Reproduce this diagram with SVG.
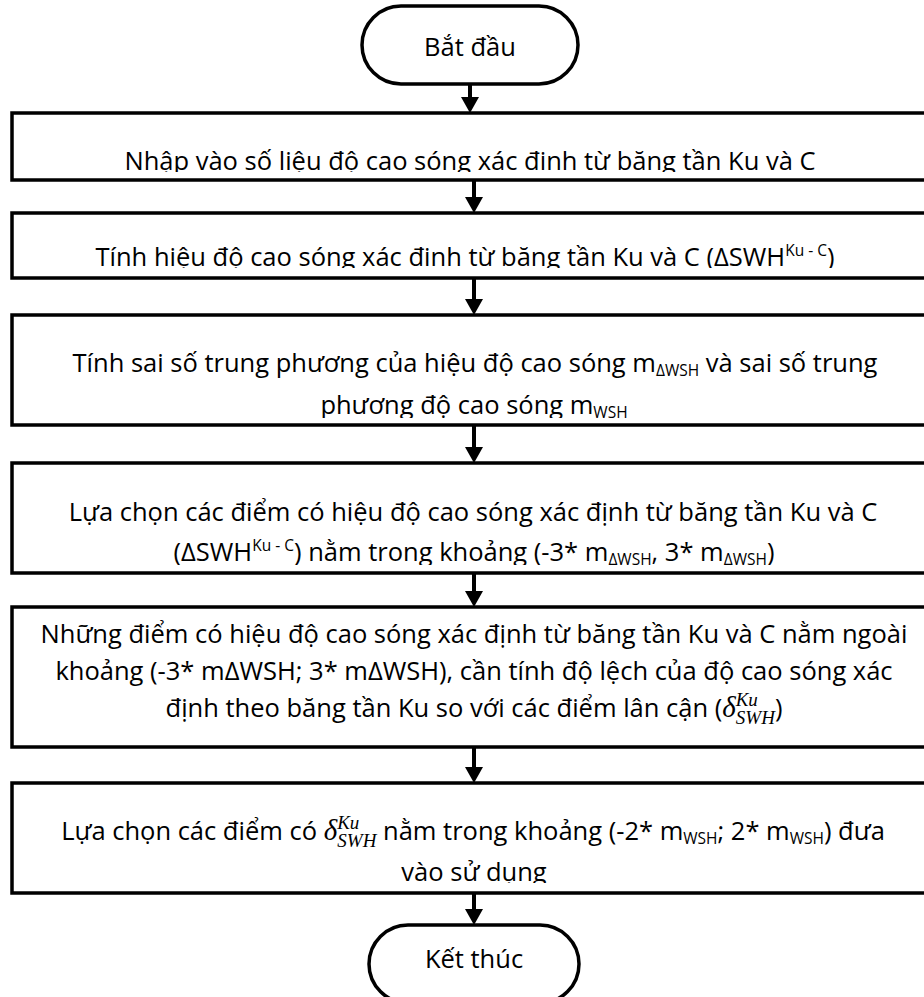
<svg xmlns="http://www.w3.org/2000/svg" width="924" height="997" viewBox="0 0 924 997">
<defs>
<style>
.box{fill:#fff;stroke:#000;stroke-width:3.5}
.term{fill:#fff;stroke:#000;stroke-width:3.5}
.t{font-family:"Open Sans","Noto Sans",sans-serif;font-size:25.5px;fill:#000;text-anchor:middle}
.s{font-size:15.5px}
.m{font-family:"Liberation Serif",serif;font-style:italic;font-size:29px}
.ms{font-family:"Liberation Serif",serif;font-style:italic;font-size:19px}
.conn{stroke:#000;stroke-width:4;fill:none;marker-end:url(#arr)}
</style>
<marker id="arr" viewBox="0 0 16 18" refX="3" refY="9" markerWidth="16" markerHeight="18" markerUnits="userSpaceOnUse" orient="auto">
<path d="M0,0 L16,9 L0,18 Z" fill="#000"/>
</marker>
<clipPath id="c1"><rect x="0" y="113" width="924" height="59"/></clipPath>
<clipPath id="c2"><rect x="0" y="213" width="924" height="55"/></clipPath>
<clipPath id="c3"><rect x="0" y="315" width="924" height="103"/></clipPath>
<clipPath id="c4"><rect x="0" y="463" width="924" height="102"/></clipPath>
<clipPath id="c6"><rect x="0" y="783" width="924" height="100"/></clipPath>
</defs>
<rect width="924" height="997" fill="#fff"/>

<g id="connectors">
<line class="conn" x1="470" y1="84" x2="470" y2="100"/>
<line class="conn" x1="474" y1="180" x2="474" y2="200"/>
<line class="conn" x1="474" y1="278" x2="474" y2="302"/>
<line class="conn" x1="474" y1="425" x2="474" y2="450"/>
<line class="conn" x1="474" y1="573" x2="474" y2="594"/>
<line class="conn" x1="474" y1="747" x2="474" y2="770"/>
<line class="conn" x1="474" y1="893" x2="474" y2="912"/>
</g>

<g id="start">
<rect class="term" x="362" y="6" width="216" height="78" rx="39" ry="39"/>
<text class="t" x="470" y="56">Bắt đầu</text>
</g>

<g id="step1">
<rect class="box" x="12" y="113" width="924" height="67"/>
<g clip-path="url(#c1)">
<text class="t" x="470" y="170">Nhập vào số liệu độ cao sóng xác định từ băng tần Ku và C</text>
</g>
</g>

<g id="step2">
<rect class="box" x="12" y="213" width="924" height="65"/>
<g clip-path="url(#c2)">
<text class="t" x="465" y="266">Tính hiệu độ cao sóng xác định từ băng tần Ku và C (ΔSWH<tspan class="s" dy="-10">Ku - C</tspan><tspan dy="10">)</tspan></text>
</g>
</g>

<g id="step3">
<rect class="box" x="12" y="315" width="924" height="110"/>
<g clip-path="url(#c3)">
<text class="t" x="475" y="372">Tính sai số trung phương của hiệu độ cao sóng m<tspan class="s" dy="4">ΔWSH</tspan><tspan dy="-4"> và sai số trung</tspan></text>
<text class="t" x="474" y="414">phương độ cao sóng m<tspan class="s" dy="4">WSH</tspan></text>
</g>
</g>

<g id="step4">
<rect class="box" x="12" y="463" width="924" height="110"/>
<g clip-path="url(#c4)">
<text class="t" x="473" y="521">Lựa chọn các điểm có hiệu độ cao sóng xác định từ băng tần Ku và C</text>
<text class="t" x="474" y="561">(ΔSWH<tspan class="s" dy="-10">Ku - C</tspan><tspan dy="10">) nằm trong khoảng (-3* m</tspan><tspan class="s" dy="4">ΔWSH</tspan><tspan dy="-4">, 3* m</tspan><tspan class="s" dy="4">ΔWSH</tspan><tspan dy="-4">)</tspan></text>
</g>
</g>

<g id="step5">
<rect class="box" x="12" y="607" width="924" height="140"/>
<text class="t" x="474" y="643">Những điểm có hiệu độ cao sóng xác định từ băng tần Ku và C nằm ngoài</text>
<text class="t" x="474" y="680">khoảng (-3* mΔWSH; 3* mΔWSH), cần tính độ lệch của độ cao sóng xác</text>
<text class="t" x="474" y="717">định theo băng tần Ku so với các điểm lân cận (<tspan class="m">δ</tspan><tspan class="ms" dy="-11">Ku</tspan><tspan class="ms" dx="-22" dy="18">SWH</tspan><tspan dy="-7">)</tspan></text>
</g>

<g id="step6">
<rect class="box" x="12" y="783" width="924" height="110"/>
<g clip-path="url(#c6)">
<text class="t" x="473" y="840">Lựa chọn các điểm có <tspan class="m">δ</tspan><tspan class="ms" dy="-11">Ku</tspan><tspan class="ms" dx="-22" dy="18">SWH</tspan><tspan dy="-7"> nằm trong khoảng (-2* m</tspan><tspan class="s" dy="4">WSH</tspan><tspan dy="-4">; 2* m</tspan><tspan class="s" dy="4">WSH</tspan><tspan dy="-4">) đưa</tspan></text>
<text class="t" x="474" y="881">vào sử dụng</text>
</g>
</g>

<g id="end">
<rect class="term" x="369" y="925" width="210" height="78" rx="39" ry="39"/>
<text class="t" x="474" y="968">Kết thúc</text>
</g>
</svg>
